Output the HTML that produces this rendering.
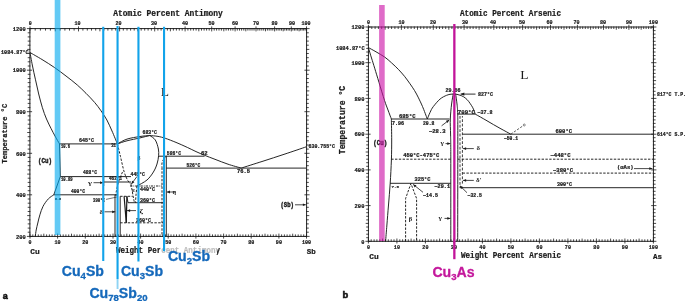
<!DOCTYPE html>
<html><head><meta charset="utf-8"><title>Cu-Sb and Cu-As phase diagrams</title>
<style>html,body{margin:0;padding:0;background:#fff;}svg{display:block;will-change:transform;}.m{font-family:"Liberation Mono",monospace;stroke:#1a1a1a;stroke-width:0.22px;}.s{font-family:"Liberation Sans",sans-serif;}.r{font-family:"Liberation Serif",serif;}</style>
</head><body>
<svg width="685" height="301" viewBox="0 0 685 301">
<rect x="0" y="0" width="685" height="301" fill="#ffffff"/>
<g id="left">
<rect x="29.9" y="28.6" width="276.7" height="207.8" fill="none" stroke="#1a1a1a" stroke-width="0.95"/>
<path d="M30 238.6v-5M32.8 236.9v-2.5M35.5 236.9v-2.5M38.3 236.9v-2.5M41.1 236.9v-2.5M43.8 236.9v-3.2M46.6 236.9v-2.5M49.4 236.9v-2.5M52.1 236.9v-2.5M54.9 236.9v-2.5M57.6 238.6v-5M60.4 236.9v-2.5M63.2 236.9v-2.5M65.9 236.9v-2.5M68.7 236.9v-2.5M71.5 236.9v-3.2M74.2 236.9v-2.5M77 236.9v-2.5M79.8 236.9v-2.5M82.5 236.9v-2.5M85.3 238.6v-5M88.1 236.9v-2.5M90.8 236.9v-2.5M93.6 236.9v-2.5M96.4 236.9v-2.5M99.1 236.9v-3.2M101.9 236.9v-2.5M104.7 236.9v-2.5M107.4 236.9v-2.5M110.2 236.9v-2.5M113 238.6v-5M115.7 236.9v-2.5M118.5 236.9v-2.5M121.2 236.9v-2.5M124 236.9v-2.5M126.8 236.9v-3.2M129.5 236.9v-2.5M132.3 236.9v-2.5M135.1 236.9v-2.5M137.8 236.9v-2.5M140.6 238.6v-5M143.4 236.9v-2.5M146.1 236.9v-2.5M148.9 236.9v-2.5M151.7 236.9v-2.5M154.4 236.9v-3.2M157.2 236.9v-2.5M160 236.9v-2.5M162.7 236.9v-2.5M165.5 236.9v-2.5M168.2 238.6v-5M171 236.9v-2.5M173.8 236.9v-2.5M176.5 236.9v-2.5M179.3 236.9v-2.5M182.1 236.9v-3.2M184.8 236.9v-2.5M187.6 236.9v-2.5M190.4 236.9v-2.5M193.1 236.9v-2.5M195.9 238.6v-5M198.7 236.9v-2.5M201.4 236.9v-2.5M204.2 236.9v-2.5M207 236.9v-2.5M209.7 236.9v-3.2M212.5 236.9v-2.5M215.3 236.9v-2.5M218 236.9v-2.5M220.8 236.9v-2.5M223.6 238.6v-5M226.3 236.9v-2.5M229.1 236.9v-2.5M231.8 236.9v-2.5M234.6 236.9v-2.5M237.4 236.9v-3.2M240.1 236.9v-2.5M242.9 236.9v-2.5M245.7 236.9v-2.5M248.4 236.9v-2.5M251.2 238.6v-5M254 236.9v-2.5M256.7 236.9v-2.5M259.5 236.9v-2.5M262.3 236.9v-2.5M265 236.9v-3.2M267.8 236.9v-2.5M270.6 236.9v-2.5M273.3 236.9v-2.5M276.1 236.9v-2.5M278.9 238.6v-5M281.6 236.9v-2.5M284.4 236.9v-2.5M287.1 236.9v-2.5M289.9 236.9v-2.5M292.7 236.9v-3.2M295.4 236.9v-2.5M298.2 236.9v-2.5M301 236.9v-2.5M303.7 236.9v-2.5M306.5 238.6v-5M30 26.4v5M35.2 28.1v2.5M40.4 28.1v2.5M45.5 28.1v2.5M50.4 28.1v2.5M55.3 28.1v3.2M60.1 28.1v2.5M64.9 28.1v2.5M69.5 28.1v2.5M74.1 28.1v2.5M78.5 26.4v5M82.9 28.1v2.5M87.3 28.1v2.5M91.5 28.1v2.5M95.7 28.1v2.5M99.9 28.1v3.2M103.9 28.1v2.5M107.9 28.1v2.5M111.9 28.1v2.5M115.7 28.1v2.5M119.6 26.4v5M123.3 28.1v2.5M127 28.1v2.5M130.6 28.1v2.5M134.2 28.1v2.5M137.8 28.1v3.2M141.2 28.1v2.5M144.7 28.1v2.5M148.1 28.1v2.5M151.4 28.1v2.5M154.7 26.4v5M157.9 28.1v2.5M161.1 28.1v2.5M164.2 28.1v2.5M167.4 28.1v2.5M170.4 28.1v3.2M173.4 28.1v2.5M176.4 28.1v2.5M179.3 28.1v2.5M182.2 28.1v2.5M185.1 26.4v5M187.9 28.1v2.5M190.7 28.1v2.5M193.4 28.1v2.5M196.1 28.1v2.5M198.8 28.1v3.2M201.5 28.1v2.5M204.1 28.1v2.5M206.6 28.1v2.5M209.2 28.1v2.5M211.7 26.4v5M214.2 28.1v2.5M216.6 28.1v2.5M219 28.1v2.5M221.4 28.1v2.5M223.8 28.1v3.2M226.1 28.1v2.5M228.4 28.1v2.5M230.7 28.1v2.5M232.9 28.1v2.5M235.1 26.4v5M237.3 28.1v2.5M239.5 28.1v2.5M241.6 28.1v2.5M243.8 28.1v2.5M245.8 28.1v3.2M247.9 28.1v2.5M250 28.1v2.5M252 28.1v2.5M254 28.1v2.5M256 26.4v5M257.9 28.1v2.5M259.8 28.1v2.5M261.8 28.1v2.5M263.7 28.1v2.5M265.5 28.1v3.2M267.4 28.1v2.5M269.2 28.1v2.5M271 28.1v2.5M272.8 28.1v2.5M274.6 26.4v5M276.3 28.1v2.5M278.1 28.1v2.5M279.8 28.1v2.5M281.5 28.1v2.5M283.2 28.1v3.2M284.8 28.1v2.5M286.5 28.1v2.5M288.1 28.1v2.5M289.7 28.1v2.5M291.3 26.4v5M292.9 28.1v2.5M294.5 28.1v2.5M296 28.1v2.5M297.6 28.1v2.5M299.1 28.1v3.2M300.6 28.1v2.5M302.1 28.1v2.5M303.6 28.1v2.5M305.1 28.1v2.5M306.5 26.4v5M26.9 236.4h5.2M309.6 236.4h-5.2M27.7 232.2h2.7M308.8 232.2h-2.7M27.7 228.1h2.7M308.8 228.1h-2.7M27.7 223.9h2.7M308.8 223.9h-2.7M27.7 219.8h2.7M308.8 219.8h-2.7M27.2 215.6h3.2M309.3 215.6h-3.2M27.7 211.5h2.7M308.8 211.5h-2.7M27.7 207.3h2.7M308.8 207.3h-2.7M27.7 203.2h2.7M308.8 203.2h-2.7M27.7 199h2.7M308.8 199h-2.7M26.9 194.8h5.2M309.6 194.8h-5.2M27.7 190.7h2.7M308.8 190.7h-2.7M27.7 186.5h2.7M308.8 186.5h-2.7M27.7 182.4h2.7M308.8 182.4h-2.7M27.7 178.2h2.7M308.8 178.2h-2.7M27.2 174.1h3.2M309.3 174.1h-3.2M27.7 169.9h2.7M308.8 169.9h-2.7M27.7 165.7h2.7M308.8 165.7h-2.7M27.7 161.6h2.7M308.8 161.6h-2.7M27.7 157.4h2.7M308.8 157.4h-2.7M26.9 153.3h5.2M309.6 153.3h-5.2M27.7 149.1h2.7M308.8 149.1h-2.7M27.7 145h2.7M308.8 145h-2.7M27.7 140.8h2.7M308.8 140.8h-2.7M27.7 136.7h2.7M308.8 136.7h-2.7M27.2 132.5h3.2M309.3 132.5h-3.2M27.7 128.3h2.7M308.8 128.3h-2.7M27.7 124.2h2.7M308.8 124.2h-2.7M27.7 120h2.7M308.8 120h-2.7M27.7 115.9h2.7M308.8 115.9h-2.7M26.9 111.7h5.2M309.6 111.7h-5.2M27.7 107.6h2.7M308.8 107.6h-2.7M27.7 103.4h2.7M308.8 103.4h-2.7M27.7 99.3h2.7M308.8 99.3h-2.7M27.7 95.1h2.7M308.8 95.1h-2.7M27.2 90.9h3.2M309.3 90.9h-3.2M27.7 86.8h2.7M308.8 86.8h-2.7M27.7 82.6h2.7M308.8 82.6h-2.7M27.7 78.5h2.7M308.8 78.5h-2.7M27.7 74.3h2.7M308.8 74.3h-2.7M26.9 70.2h5.2M309.6 70.2h-5.2M27.7 66h2.7M308.8 66h-2.7M27.7 61.8h2.7M308.8 61.8h-2.7M27.7 57.7h2.7M308.8 57.7h-2.7M27.7 53.5h2.7M308.8 53.5h-2.7M27.2 49.4h3.2M309.3 49.4h-3.2M27.7 45.2h2.7M308.8 45.2h-2.7M27.7 41.1h2.7M308.8 41.1h-2.7M27.7 36.9h2.7M308.8 36.9h-2.7M27.7 32.8h2.7M308.8 32.8h-2.7M26.9 28.6h5.2M309.6 28.6h-5.2" fill="none" stroke="#1a1a1a" stroke-width="0.8" />
<path d="M30 52.5C32 53.7 37.9 57 42 59.5C46.1 62 50.6 64.8 54.6 67.6C58.6 70.3 62.2 73.1 66 76C69.8 78.9 74 82.1 77.3 85C80.6 87.9 83.1 90.4 86 93.3C88.9 96.2 92.2 99.6 94.7 102.5C97.2 105.4 99 107.9 101 110.8C103 113.7 105.1 116.6 106.9 120C108.7 123.4 110.2 127 112 131C113.8 135 116.5 141.8 117.4 143.9" fill="none" stroke="#1a1a1a" stroke-width="0.95" />
<path d="M30 52.5C30.4 54.6 31.4 60.5 32.3 65C33.2 69.5 34.4 75 35.5 79.8C36.6 84.6 37.6 89.3 38.7 94C39.9 98.7 41.1 103.5 42.4 107.7C43.7 111.9 45 115.5 46.5 119C48 122.5 49.7 125.8 51.1 128.6C52.5 131.4 53.6 133.4 55 136C56.4 138.6 58.8 142.6 59.5 143.9" fill="none" stroke="#1a1a1a" stroke-width="0.95" />
<line x1="59.5" y1="143.9" x2="117.4" y2="143.9" stroke="#1a1a1a" stroke-width="0.95" />
<path d="M59.5 143.9L60.3 176.6L53.8 194.8" fill="none" stroke="#1a1a1a" stroke-width="0.95" />
<path d="M53.8 194.8C52.9 195.5 50.2 196.9 48.4 198.8C46.6 200.7 44.4 203.7 43 206.4C41.6 209.1 40.8 212 39.9 214.8C39 217.6 38.4 220.5 37.8 223C37.2 225.5 36.6 227.8 36.2 230C35.8 232.2 35.4 235.3 35.2 236.4" fill="none" stroke="#1a1a1a" stroke-width="0.95" />
<line x1="60.3" y1="176.6" x2="131" y2="176.6" stroke="#1a1a1a" stroke-width="0.95" />
<line x1="103.7" y1="182" x2="131" y2="182" stroke="#1a1a1a" stroke-width="0.95" />
<line x1="103.7" y1="176.6" x2="103.7" y2="186" stroke="#1a1a1a" stroke-width="0.95" />
<line x1="53.8" y1="194.8" x2="117" y2="194.8" stroke="#1a1a1a" stroke-width="0.95" />
<path d="M117.4 143.9C119 143.1 123.2 140.3 127 139.1C130.8 137.9 136.2 137.1 140 136.5C143.8 135.9 148.2 135.7 149.8 135.5" fill="none" stroke="#1a1a1a" stroke-width="0.95" />
<path d="M117.4 143.9C119 143.4 123.2 141.8 127 140.8C130.8 139.8 136.2 138.8 140 137.9C143.8 137 148.2 135.9 149.8 135.5" fill="none" stroke="#1a1a1a" stroke-width="0.95" />
<path d="M149.8 135.5C151.2 135.7 155.4 135.9 158 136.4C160.6 136.9 162.3 137.3 165.3 138.3C168.3 139.3 172.3 140.9 176 142.4C179.7 143.9 184 145.9 187.3 147.4C190.6 148.9 193.1 150.3 196 151.6C198.9 152.9 201.4 154 204.6 155.3C207.8 156.6 211.1 157.8 215 159.3C218.9 160.8 223.6 162.7 228 164.2C232.4 165.7 239 167.4 241.2 168.1" fill="none" stroke="#1a1a1a" stroke-width="0.95" />
<path d="M241.2 168.1C244.7 167 254.7 163.8 262 161.5C269.3 159.2 277.7 156.4 285 154C292.3 151.6 302.5 148.1 306 146.9" fill="none" stroke="#1a1a1a" stroke-width="0.95" />
<path d="M149.8 135.5C150.7 136.2 153.9 137.8 155.3 140C156.7 142.2 157.9 146.4 158.4 149C158.9 151.6 158.8 153.1 158.6 155.6C158.4 158.1 157.9 161.3 157 164C156.1 166.7 155.1 169.3 153.4 172C151.7 174.7 149.7 177.7 147 180C144.3 182.3 138.7 185 137 186" fill="none" stroke="#1a1a1a" stroke-width="0.95" />
<path d="M117.4 143.9C117.9 146 119.4 151.9 120.5 156.6C121.6 161.3 123 168.1 124.2 172C125.4 175.9 126.4 177.9 127.5 180C128.6 182.1 130.4 183.6 131 184.3" fill="none" stroke="#1a1a1a" stroke-width="0.95" stroke-dasharray="2.4 1.4"/>
<path d="M122.5 172C121.8 173.7 119.5 178.7 118.5 182C117.5 185.3 116.6 189.7 116.2 192C115.8 194.3 116 195.3 116 196" fill="none" stroke="#1a1a1a" stroke-width="0.95" stroke-dasharray="2.4 1.4"/>
<line x1="158.5" y1="156.2" x2="204.6" y2="156.2" stroke="#1a1a1a" stroke-width="0.95" />
<line x1="166.2" y1="168.1" x2="306" y2="168.1" stroke="#1a1a1a" stroke-width="0.95" />
<line x1="166.3" y1="156.2" x2="166.3" y2="236" stroke="#1a1a1a" stroke-width="0.95" />
<line x1="162" y1="167.5" x2="162" y2="236" stroke="#1a1a1a" stroke-width="0.95" stroke-dasharray="2.4 1.4"/>
<path d="M166.3 156.2C165.9 156.6 164.7 157.4 164 158.5C163.3 159.6 162.3 161.5 162 163C161.7 164.5 162 166.8 162 167.5" fill="none" stroke="#1a1a1a" stroke-width="0.95" stroke-dasharray="2.4 1.4"/>
<line x1="130" y1="186" x2="162" y2="186" stroke="#1a1a1a" stroke-width="0.95" stroke-dasharray="2.4 1 0.8 1"/>
<path d="M131 184.3C131.2 185.6 132 189.6 132.4 192C132.8 194.4 133.2 196.9 133.6 198.7C133.9 200.5 134.3 202 134.5 202.7" fill="none" stroke="#1a1a1a" stroke-width="0.95" stroke-dasharray="2.4 1.4"/>
<path d="M137 186C136.8 187.5 136.2 192.2 136 195C135.8 197.8 135.6 201.4 135.5 202.7" fill="none" stroke="#1a1a1a" stroke-width="0.95" stroke-dasharray="2.4 1.4"/>
<line x1="120.2" y1="196.3" x2="132.7" y2="196.3" stroke="#1a1a1a" stroke-width="0.95" stroke-dasharray="2.4 1.4"/>
<line x1="128" y1="202.7" x2="163.7" y2="202.7" stroke="#1a1a1a" stroke-width="0.95" />
<line x1="126.9" y1="196.3" x2="128" y2="202.7" stroke="#1a1a1a" stroke-width="0.95" />
<line x1="115" y1="194.8" x2="115" y2="236" stroke="#1a1a1a" stroke-width="0.95" />
<line x1="120.2" y1="196.3" x2="120.2" y2="236" stroke="#1a1a1a" stroke-width="0.95" />
<line x1="124.1" y1="196.3" x2="126.3" y2="222.8" stroke="#1a1a1a" stroke-width="1.2" />
<line x1="126.9" y1="196.3" x2="126.3" y2="222.8" stroke="#1a1a1a" stroke-width="1.2" />
<line x1="120.2" y1="222.8" x2="163.7" y2="222.8" stroke="#1a1a1a" stroke-width="0.95" stroke-dasharray="2.4 1.4"/>
<line x1="106" y1="199.4" x2="117" y2="197" stroke="#1a1a1a" stroke-width="0.6" />
<line x1="93.5" y1="182.7" x2="103.2" y2="182.7" stroke="#1a1a1a" stroke-width="0.8" />
<path d="M103.2 182.7L100.1 184.1L100.1 181.3Z" fill="#1a1a1a"/>
<line x1="104.5" y1="211.8" x2="115.3" y2="211.8" stroke="#1a1a1a" stroke-width="0.8" />
<path d="M115.3 211.8L112.2 213.2L112.2 210.4Z" fill="#1a1a1a"/>
<line x1="136" y1="210.6" x2="127" y2="210.6" stroke="#1a1a1a" stroke-width="0.8" />
<path d="M127 210.6L130.1 209.2L130.1 212Z" fill="#1a1a1a"/>
<line x1="176" y1="192" x2="166.9" y2="192" stroke="#1a1a1a" stroke-width="0.8" />
<path d="M166.9 192L170 190.6L170 193.4Z" fill="#1a1a1a"/>
<line x1="295" y1="204.8" x2="305.8" y2="204.8" stroke="#1a1a1a" stroke-width="0.8" />
<path d="M305.8 204.8L302.9 206.1L302.9 203.5Z" fill="#1a1a1a"/>
<line x1="137" y1="176.5" x2="131.4" y2="184" stroke="#1a1a1a" stroke-width="0.8" />
<path d="M131.4 184L132.1 180.7L134.4 182.3Z" fill="#1a1a1a"/>
<text class="m" x="168" y="16" font-size="8.2" font-weight="bold" text-anchor="middle" fill="#1a1a1a" textLength="109.5" lengthAdjust="spacingAndGlyphs" >Atomic Percent Antimony</text>
<text class="m" x="30.2" y="24.7" font-size="5.7" font-weight="bold" text-anchor="middle" fill="#1a1a1a" textLength="3" lengthAdjust="spacingAndGlyphs" >0</text>
<text class="m" x="77.5" y="24.7" font-size="5.7" font-weight="bold" text-anchor="middle" fill="#1a1a1a" textLength="6.1" lengthAdjust="spacingAndGlyphs" >10</text>
<text class="m" x="118.5" y="24.7" font-size="5.7" font-weight="bold" text-anchor="middle" fill="#1a1a1a" textLength="6.1" lengthAdjust="spacingAndGlyphs" >20</text>
<text class="m" x="154" y="24.7" font-size="5.7" font-weight="bold" text-anchor="middle" fill="#1a1a1a" textLength="6.1" lengthAdjust="spacingAndGlyphs" >30</text>
<text class="m" x="185" y="24.7" font-size="5.7" font-weight="bold" text-anchor="middle" fill="#1a1a1a" textLength="6.1" lengthAdjust="spacingAndGlyphs" >40</text>
<text class="m" x="211.5" y="24.7" font-size="5.7" font-weight="bold" text-anchor="middle" fill="#1a1a1a" textLength="6.1" lengthAdjust="spacingAndGlyphs" >50</text>
<text class="m" x="235" y="24.7" font-size="5.7" font-weight="bold" text-anchor="middle" fill="#1a1a1a" textLength="6.1" lengthAdjust="spacingAndGlyphs" >60</text>
<text class="m" x="256" y="24.7" font-size="5.7" font-weight="bold" text-anchor="middle" fill="#1a1a1a" textLength="6.1" lengthAdjust="spacingAndGlyphs" >70</text>
<text class="m" x="274.5" y="24.7" font-size="5.7" font-weight="bold" text-anchor="middle" fill="#1a1a1a" textLength="6.1" lengthAdjust="spacingAndGlyphs" >80</text>
<text class="m" x="292" y="24.7" font-size="5.7" font-weight="bold" text-anchor="middle" fill="#1a1a1a" textLength="6.1" lengthAdjust="spacingAndGlyphs" >90</text>
<text class="m" x="306" y="24.7" font-size="5.7" font-weight="bold" text-anchor="middle" fill="#1a1a1a" textLength="9.1" lengthAdjust="spacingAndGlyphs" >100</text>
<text class="m" x="25.8" y="30.8" font-size="5.8" font-weight="bold" text-anchor="end" fill="#1a1a1a" textLength="13" lengthAdjust="spacingAndGlyphs" >1200</text>
<text class="m" x="25.8" y="72.4" font-size="5.8" font-weight="bold" text-anchor="end" fill="#1a1a1a" textLength="13" lengthAdjust="spacingAndGlyphs" >1000</text>
<text class="m" x="25.8" y="113.9" font-size="5.8" font-weight="bold" text-anchor="end" fill="#1a1a1a" textLength="9.8" lengthAdjust="spacingAndGlyphs" >800</text>
<text class="m" x="25.8" y="155.5" font-size="5.8" font-weight="bold" text-anchor="end" fill="#1a1a1a" textLength="9.8" lengthAdjust="spacingAndGlyphs" >600</text>
<text class="m" x="25.8" y="197" font-size="5.8" font-weight="bold" text-anchor="end" fill="#1a1a1a" textLength="9.8" lengthAdjust="spacingAndGlyphs" >400</text>
<text class="m" x="25.8" y="238.6" font-size="5.8" font-weight="bold" text-anchor="end" fill="#1a1a1a" textLength="9.8" lengthAdjust="spacingAndGlyphs" >200</text>
<text class="m" x="28.6" y="54.4" font-size="5.2" font-weight="bold" text-anchor="end" fill="#1a1a1a" textLength="27.6" lengthAdjust="spacingAndGlyphs" >1084.87°C</text>
<text class="m" x="30" y="243.7" font-size="5.7" font-weight="bold" text-anchor="middle" fill="#1a1a1a" textLength="3" lengthAdjust="spacingAndGlyphs" >0</text>
<text class="m" x="57.6" y="243.7" font-size="5.7" font-weight="bold" text-anchor="middle" fill="#1a1a1a" textLength="6.1" lengthAdjust="spacingAndGlyphs" >10</text>
<text class="m" x="85.3" y="243.7" font-size="5.7" font-weight="bold" text-anchor="middle" fill="#1a1a1a" textLength="6.1" lengthAdjust="spacingAndGlyphs" >20</text>
<text class="m" x="113" y="243.7" font-size="5.7" font-weight="bold" text-anchor="middle" fill="#1a1a1a" textLength="6.1" lengthAdjust="spacingAndGlyphs" >30</text>
<text class="m" x="140.6" y="243.7" font-size="5.7" font-weight="bold" text-anchor="middle" fill="#1a1a1a" textLength="6.1" lengthAdjust="spacingAndGlyphs" >40</text>
<text class="m" x="168.2" y="243.7" font-size="5.7" font-weight="bold" text-anchor="middle" fill="#1a1a1a" textLength="6.1" lengthAdjust="spacingAndGlyphs" >50</text>
<text class="m" x="195.9" y="243.7" font-size="5.7" font-weight="bold" text-anchor="middle" fill="#1a1a1a" textLength="6.1" lengthAdjust="spacingAndGlyphs" >60</text>
<text class="m" x="223.6" y="243.7" font-size="5.7" font-weight="bold" text-anchor="middle" fill="#1a1a1a" textLength="6.1" lengthAdjust="spacingAndGlyphs" >70</text>
<text class="m" x="251.2" y="243.7" font-size="5.7" font-weight="bold" text-anchor="middle" fill="#1a1a1a" textLength="6.1" lengthAdjust="spacingAndGlyphs" >80</text>
<text class="m" x="278.9" y="243.7" font-size="5.7" font-weight="bold" text-anchor="middle" fill="#1a1a1a" textLength="6.1" lengthAdjust="spacingAndGlyphs" >90</text>
<text class="m" x="306.5" y="243.7" font-size="5.7" font-weight="bold" text-anchor="middle" fill="#1a1a1a" textLength="9.1" lengthAdjust="spacingAndGlyphs" >100</text>
<text class="m" transform="translate(6.6,163.5) rotate(-90)" font-size="7.4" font-weight="bold" text-anchor="start" fill="#1a1a1a" textLength="59.8" lengthAdjust="spacingAndGlyphs">Temperature °C</text>
<text class="m" x="30.2" y="253.5" font-size="7.6" font-weight="bold" text-anchor="start" fill="#1a1a1a" textLength="9.5" lengthAdjust="spacingAndGlyphs" >Cu</text>
<text class="m" x="306.8" y="253.5" font-size="7.6" font-weight="bold" text-anchor="start" fill="#1a1a1a" textLength="9" lengthAdjust="spacingAndGlyphs" >Sb</text>
<text class="m" x="168" y="252.8" font-size="8.2" font-weight="bold" text-anchor="middle" fill="#1a1a1a" textLength="104" lengthAdjust="spacingAndGlyphs" >Weight Percent Antimony</text>
<text class="m" x="79" y="142.3" font-size="5.0" font-weight="bold" text-anchor="start" fill="#1a1a1a" textLength="15" lengthAdjust="spacingAndGlyphs" >645°C</text>
<text class="m" x="61" y="148.2" font-size="4.6" font-weight="bold" text-anchor="start" fill="#1a1a1a" textLength="9" lengthAdjust="spacingAndGlyphs" >10.6</text>
<text class="m" x="111.2" y="147.1" font-size="4.6" font-weight="bold" text-anchor="start" fill="#1a1a1a" textLength="4.8" lengthAdjust="spacingAndGlyphs" >31</text>
<text class="m" x="142.5" y="134.2" font-size="5.0" font-weight="bold" text-anchor="start" fill="#1a1a1a" textLength="14.5" lengthAdjust="spacingAndGlyphs" >683°C</text>
<text class="m" x="38" y="163.1" font-size="7.2" font-weight="bold" text-anchor="start" fill="#1a1a1a" textLength="14" lengthAdjust="spacingAndGlyphs" style="stroke-width:0.45px">(Cu)</text>
<text class="m" x="83" y="174.3" font-size="5.0" font-weight="bold" text-anchor="start" fill="#1a1a1a" textLength="14" lengthAdjust="spacingAndGlyphs" >488°C</text>
<text class="m" x="61" y="180.5" font-size="4.6" font-weight="bold" text-anchor="start" fill="#1a1a1a" textLength="11.7" lengthAdjust="spacingAndGlyphs" >10.89</text>
<text class="m" x="109" y="180.4" font-size="4.6" font-weight="bold" text-anchor="start" fill="#1a1a1a" textLength="13" lengthAdjust="spacingAndGlyphs" >462°C</text>
<text class="r" x="88" y="184.5" font-size="6" font-weight="bold" text-anchor="start" fill="#1a1a1a" textLength="4" lengthAdjust="spacingAndGlyphs" >γ</text>
<text class="m" x="71" y="193.1" font-size="5.0" font-weight="bold" text-anchor="start" fill="#1a1a1a" textLength="14" lengthAdjust="spacingAndGlyphs" >400°C</text>
<text class="m" x="55" y="199.8" font-size="4.4" font-weight="bold" text-anchor="start" fill="#1a1a1a" textLength="6" lengthAdjust="spacingAndGlyphs" >5.5</text>
<text class="m" x="130.6" y="176.2" font-size="5.0" font-weight="bold" text-anchor="start" fill="#1a1a1a" textLength="14.4" lengthAdjust="spacingAndGlyphs" >445°C</text>
<text class="m" x="140" y="190.8" font-size="5.0" font-weight="bold" text-anchor="start" fill="#1a1a1a" textLength="15" lengthAdjust="spacingAndGlyphs" >440°C</text>
<text class="r" x="132" y="191.8" font-size="5.5" font-weight="bold" text-anchor="start" fill="#1a1a1a" textLength="3" lengthAdjust="spacingAndGlyphs" >ε</text>
<text class="m" x="93" y="202" font-size="5.0" font-weight="bold" text-anchor="start" fill="#1a1a1a" textLength="12" lengthAdjust="spacingAndGlyphs" >390°C</text>
<text class="r" x="99.5" y="213.5" font-size="6" font-weight="bold" text-anchor="start" fill="#1a1a1a" textLength="3.5" lengthAdjust="spacingAndGlyphs" >δ</text>
<text class="m" x="140" y="202.2" font-size="5.0" font-weight="bold" text-anchor="start" fill="#1a1a1a" textLength="15" lengthAdjust="spacingAndGlyphs" >360°C</text>
<text class="r" x="139.5" y="212.7" font-size="6" font-weight="bold" text-anchor="start" fill="#1a1a1a" textLength="3.5" lengthAdjust="spacingAndGlyphs" >ζ</text>
<text class="m" x="136" y="222.2" font-size="5.0" font-weight="bold" text-anchor="start" fill="#1a1a1a" textLength="15" lengthAdjust="spacingAndGlyphs" >260°C</text>
<text class="m" x="166.8" y="154.8" font-size="5.0" font-weight="bold" text-anchor="start" fill="#1a1a1a" textLength="14.2" lengthAdjust="spacingAndGlyphs" >586°C</text>
<text class="m" x="201" y="154.5" font-size="4.6" font-weight="bold" text-anchor="start" fill="#1a1a1a" textLength="6.7" lengthAdjust="spacingAndGlyphs" >62</text>
<text class="m" x="186.4" y="166.7" font-size="5.0" font-weight="bold" text-anchor="start" fill="#1a1a1a" textLength="14" lengthAdjust="spacingAndGlyphs" >526°C</text>
<text class="m" x="237" y="172.7" font-size="4.6" font-weight="bold" text-anchor="start" fill="#1a1a1a" textLength="13" lengthAdjust="spacingAndGlyphs" >76.5</text>
<text class="r" x="172.5" y="194.3" font-size="6" font-weight="bold" text-anchor="start" fill="#1a1a1a" textLength="3.5" lengthAdjust="spacingAndGlyphs" >η</text>
<text class="m" x="280.5" y="207" font-size="7.2" font-weight="bold" text-anchor="start" fill="#1a1a1a" textLength="13.5" lengthAdjust="spacingAndGlyphs" style="stroke-width:0.45px">(Sb)</text>
<text class="m" x="308.5" y="148.1" font-size="4.8" font-weight="bold" text-anchor="start" fill="#1a1a1a" textLength="26.5" lengthAdjust="spacingAndGlyphs" >630.755°C</text>
<text class="r" x="137.5" y="159.5" font-size="6" font-weight="bold" text-anchor="start" fill="#1a1a1a" textLength="3" lengthAdjust="spacingAndGlyphs" >β</text>
<text class="r" x="160.8" y="96" font-size="13.5" font-weight="normal" text-anchor="start" fill="#1a1a1a" >L</text>
<rect x="160" y="245.5" width="57" height="20" fill="#ffffff" fill-opacity="0.7"/>
<rect x="54.7" y="0" width="5.7" height="235" fill="#00a9ee" fill-opacity="0.61"/>
<rect x="102.2" y="26.8" width="2.1" height="234.2" fill="#12a3ea"/>
<rect x="137.4" y="26.8" width="2.1" height="234.7" fill="#12a3ea"/>
<rect x="163" y="26.8" width="2.1" height="224.4" fill="#12a3ea"/>
<rect x="116.5" y="26" width="2.1" height="253" fill="#12a3ea"/>
<rect x="116.6" y="279" width="1.9" height="10" fill="#8fd4f4"/>
<text class="s" x="61.8" y="276.2" font-size="14.1" font-weight="bold" fill="#1569bb" stroke="#1569bb" stroke-width="0.3">Cu<tspan font-size="9.6" dy="2.8">4</tspan><tspan dy="-2.8" font-size="1">&#8203;</tspan>Sb</text>
<text class="s" x="120.9" y="276.2" font-size="14.1" font-weight="bold" fill="#1569bb" stroke="#1569bb" stroke-width="0.3">Cu<tspan font-size="9.6" dy="2.8">3</tspan><tspan dy="-2.8" font-size="1">&#8203;</tspan>Sb</text>
<text class="s" x="167.9" y="260.8" font-size="14.1" font-weight="bold" fill="#1569bb" stroke="#1569bb" stroke-width="0.3">Cu<tspan font-size="9.6" dy="2.8">2</tspan><tspan dy="-2.8" font-size="1">&#8203;</tspan>Sb</text>
<text class="s" x="89.4" y="297.8" font-size="14.1" font-weight="bold" fill="#1569bb" stroke="#1569bb" stroke-width="0.3">Cu<tspan font-size="9.6" dy="2.8">78</tspan><tspan dy="-2.8" font-size="1">&#8203;</tspan>Sb<tspan font-size="9.6" dy="2.8">20</tspan><tspan dy="-2.8" font-size="1">&#8203;</tspan></text>
<text class="s" x="2.7" y="298.6" font-size="9" font-weight="bold" text-anchor="start" fill="#111" stroke="#111" stroke-width="0.55">a</text>
</g>
<g id="right">
<rect x="368.4" y="27.0" width="285" height="214.3" fill="none" stroke="#1a1a1a" stroke-width="0.95"/>
<path d="M368.4 243.5v-5M371.2 241.8v-2.5M374.1 241.8v-2.5M376.9 241.8v-2.5M379.8 241.8v-2.5M382.6 241.8v-3.2M385.5 241.8v-2.5M388.3 241.8v-2.5M391.2 241.8v-2.5M394 241.8v-2.5M396.9 243.5v-5M399.8 241.8v-2.5M402.6 241.8v-2.5M405.4 241.8v-2.5M408.3 241.8v-2.5M411.1 241.8v-3.2M414 241.8v-2.5M416.8 241.8v-2.5M419.7 241.8v-2.5M422.5 241.8v-2.5M425.4 243.5v-5M428.2 241.8v-2.5M431.1 241.8v-2.5M433.9 241.8v-2.5M436.8 241.8v-2.5M439.6 241.8v-3.2M442.5 241.8v-2.5M445.3 241.8v-2.5M448.2 241.8v-2.5M451 241.8v-2.5M453.9 243.5v-5M456.8 241.8v-2.5M459.6 241.8v-2.5M462.4 241.8v-2.5M465.3 241.8v-2.5M468.1 241.8v-3.2M471 241.8v-2.5M473.8 241.8v-2.5M476.7 241.8v-2.5M479.5 241.8v-2.5M482.4 243.5v-5M485.2 241.8v-2.5M488.1 241.8v-2.5M490.9 241.8v-2.5M493.8 241.8v-2.5M496.6 241.8v-3.2M499.5 241.8v-2.5M502.3 241.8v-2.5M505.2 241.8v-2.5M508 241.8v-2.5M510.9 243.5v-5M513.8 241.8v-2.5M516.6 241.8v-2.5M519.5 241.8v-2.5M522.3 241.8v-2.5M525.1 241.8v-3.2M528 241.8v-2.5M530.8 241.8v-2.5M533.7 241.8v-2.5M536.5 241.8v-2.5M539.4 243.5v-5M542.2 241.8v-2.5M545.1 241.8v-2.5M548 241.8v-2.5M550.8 241.8v-2.5M553.6 241.8v-3.2M556.5 241.8v-2.5M559.3 241.8v-2.5M562.2 241.8v-2.5M565 241.8v-2.5M567.9 243.5v-5M570.8 241.8v-2.5M573.6 241.8v-2.5M576.5 241.8v-2.5M579.3 241.8v-2.5M582.1 241.8v-3.2M585 241.8v-2.5M587.8 241.8v-2.5M590.7 241.8v-2.5M593.5 241.8v-2.5M596.4 243.5v-5M599.2 241.8v-2.5M602.1 241.8v-2.5M605 241.8v-2.5M607.8 241.8v-2.5M610.6 241.8v-3.2M613.5 241.8v-2.5M616.3 241.8v-2.5M619.2 241.8v-2.5M622 241.8v-2.5M624.9 243.5v-5M627.8 241.8v-2.5M630.6 241.8v-2.5M633.5 241.8v-2.5M636.3 241.8v-2.5M639.1 241.8v-3.2M642 241.8v-2.5M644.8 241.8v-2.5M647.7 241.8v-2.5M650.5 241.8v-2.5M653.4 243.5v-5M368.4 24.8v5M371.8 26.5v2.5M375.1 26.5v2.5M378.4 26.5v2.5M381.7 26.5v2.5M385.1 26.5v3.2M388.3 26.5v2.5M391.6 26.5v2.5M394.9 26.5v2.5M398.2 26.5v2.5M401.4 24.8v5M404.6 26.5v2.5M407.9 26.5v2.5M411.1 26.5v2.5M414.3 26.5v2.5M417.5 26.5v3.2M420.7 26.5v2.5M423.8 26.5v2.5M427 26.5v2.5M430.1 26.5v2.5M433.3 24.8v5M436.4 26.5v2.5M439.5 26.5v2.5M442.6 26.5v2.5M445.7 26.5v2.5M448.8 26.5v3.2M451.9 26.5v2.5M454.9 26.5v2.5M458 26.5v2.5M461 26.5v2.5M464.1 24.8v5M467.1 26.5v2.5M470.1 26.5v2.5M473.1 26.5v2.5M476.1 26.5v2.5M479.1 26.5v3.2M482 26.5v2.5M485 26.5v2.5M488 26.5v2.5M490.9 26.5v2.5M493.8 24.8v5M496.7 26.5v2.5M499.7 26.5v2.5M502.6 26.5v2.5M505.5 26.5v2.5M508.3 26.5v3.2M511.2 26.5v2.5M514.1 26.5v2.5M516.9 26.5v2.5M519.8 26.5v2.5M522.6 24.8v5M525.4 26.5v2.5M528.2 26.5v2.5M531.1 26.5v2.5M533.9 26.5v2.5M536.6 26.5v3.2M539.4 26.5v2.5M542.2 26.5v2.5M545 26.5v2.5M547.7 26.5v2.5M550.5 24.8v5M553.2 26.5v2.5M555.9 26.5v2.5M558.6 26.5v2.5M561.3 26.5v2.5M564 26.5v3.2M566.7 26.5v2.5M569.4 26.5v2.5M572.1 26.5v2.5M574.8 26.5v2.5M577.4 24.8v5M580.1 26.5v2.5M582.7 26.5v2.5M585.3 26.5v2.5M588 26.5v2.5M590.6 26.5v3.2M593.2 26.5v2.5M595.8 26.5v2.5M598.4 26.5v2.5M601 26.5v2.5M603.5 24.8v5M606.1 26.5v2.5M608.7 26.5v2.5M611.2 26.5v2.5M613.8 26.5v2.5M616.3 26.5v3.2M618.8 26.5v2.5M621.3 26.5v2.5M623.9 26.5v2.5M626.4 26.5v2.5M628.9 24.8v5M631.3 26.5v2.5M633.8 26.5v2.5M636.3 26.5v2.5M638.8 26.5v2.5M641.2 26.5v3.2M643.7 26.5v2.5M646.1 26.5v2.5M648.6 26.5v2.5M651 26.5v2.5M653.4 24.8v5M365.4 241.3h5.2M656.4 241.3h-5.2M366.2 237.7h2.7M655.6 237.7h-2.7M366.2 234.2h2.7M655.6 234.2h-2.7M366.2 230.6h2.7M655.6 230.6h-2.7M366.2 227h2.7M655.6 227h-2.7M365.7 223.4h3.2M656.1 223.4h-3.2M366.2 219.9h2.7M655.6 219.9h-2.7M366.2 216.3h2.7M655.6 216.3h-2.7M366.2 212.7h2.7M655.6 212.7h-2.7M366.2 209.2h2.7M655.6 209.2h-2.7M365.4 205.6h5.2M656.4 205.6h-5.2M366.2 202h2.7M655.6 202h-2.7M366.2 198.4h2.7M655.6 198.4h-2.7M366.2 194.9h2.7M655.6 194.9h-2.7M366.2 191.3h2.7M655.6 191.3h-2.7M365.7 187.7h3.2M656.1 187.7h-3.2M366.2 184.2h2.7M655.6 184.2h-2.7M366.2 180.6h2.7M655.6 180.6h-2.7M366.2 177h2.7M655.6 177h-2.7M366.2 173.4h2.7M655.6 173.4h-2.7M365.4 169.9h5.2M656.4 169.9h-5.2M366.2 166.3h2.7M655.6 166.3h-2.7M366.2 162.7h2.7M655.6 162.7h-2.7M366.2 159.2h2.7M655.6 159.2h-2.7M366.2 155.6h2.7M655.6 155.6h-2.7M365.7 152h3.2M656.1 152h-3.2M366.2 148.4h2.7M655.6 148.4h-2.7M366.2 144.9h2.7M655.6 144.9h-2.7M366.2 141.3h2.7M655.6 141.3h-2.7M366.2 137.7h2.7M655.6 137.7h-2.7M365.4 134.2h5.2M656.4 134.2h-5.2M366.2 130.6h2.7M655.6 130.6h-2.7M366.2 127h2.7M655.6 127h-2.7M366.2 123.4h2.7M655.6 123.4h-2.7M366.2 119.9h2.7M655.6 119.9h-2.7M365.7 116.3h3.2M656.1 116.3h-3.2M366.2 112.7h2.7M655.6 112.7h-2.7M366.2 109.1h2.7M655.6 109.1h-2.7M366.2 105.6h2.7M655.6 105.6h-2.7M366.2 102h2.7M655.6 102h-2.7M365.4 98.4h5.2M656.4 98.4h-5.2M366.2 94.9h2.7M655.6 94.9h-2.7M366.2 91.3h2.7M655.6 91.3h-2.7M366.2 87.7h2.7M655.6 87.7h-2.7M366.2 84.1h2.7M655.6 84.1h-2.7M365.7 80.6h3.2M656.1 80.6h-3.2M366.2 77h2.7M655.6 77h-2.7M366.2 73.4h2.7M655.6 73.4h-2.7M366.2 69.9h2.7M655.6 69.9h-2.7M366.2 66.3h2.7M655.6 66.3h-2.7M365.4 62.7h5.2M656.4 62.7h-5.2M366.2 59.1h2.7M655.6 59.1h-2.7M366.2 55.6h2.7M655.6 55.6h-2.7M366.2 52h2.7M655.6 52h-2.7M366.2 48.4h2.7M655.6 48.4h-2.7M365.7 44.9h3.2M656.1 44.9h-3.2M366.2 41.3h2.7M655.6 41.3h-2.7M366.2 37.7h2.7M655.6 37.7h-2.7M366.2 34.1h2.7M655.6 34.1h-2.7M366.2 30.6h2.7M655.6 30.6h-2.7M365.4 27h5.2M656.4 27h-5.2" fill="none" stroke="#1a1a1a" stroke-width="0.8" />
<text class="m" x="510.5" y="16" font-size="8.2" font-weight="bold" text-anchor="middle" fill="#1a1a1a" textLength="101" lengthAdjust="spacingAndGlyphs" >Atomic Percent Arsenic</text>
<text class="m" x="368.4" y="23.6" font-size="5.7" font-weight="bold" text-anchor="middle" fill="#1a1a1a" textLength="3" lengthAdjust="spacingAndGlyphs" >0</text>
<text class="m" x="401.5" y="23.6" font-size="5.7" font-weight="bold" text-anchor="middle" fill="#1a1a1a" textLength="6.1" lengthAdjust="spacingAndGlyphs" >10</text>
<text class="m" x="433" y="23.6" font-size="5.7" font-weight="bold" text-anchor="middle" fill="#1a1a1a" textLength="6.1" lengthAdjust="spacingAndGlyphs" >20</text>
<text class="m" x="465" y="23.6" font-size="5.7" font-weight="bold" text-anchor="middle" fill="#1a1a1a" textLength="6.1" lengthAdjust="spacingAndGlyphs" >30</text>
<text class="m" x="493" y="23.6" font-size="5.7" font-weight="bold" text-anchor="middle" fill="#1a1a1a" textLength="6.1" lengthAdjust="spacingAndGlyphs" >40</text>
<text class="m" x="522" y="23.6" font-size="5.7" font-weight="bold" text-anchor="middle" fill="#1a1a1a" textLength="6.1" lengthAdjust="spacingAndGlyphs" >50</text>
<text class="m" x="549.5" y="23.6" font-size="5.7" font-weight="bold" text-anchor="middle" fill="#1a1a1a" textLength="6.1" lengthAdjust="spacingAndGlyphs" >60</text>
<text class="m" x="576.5" y="23.6" font-size="5.7" font-weight="bold" text-anchor="middle" fill="#1a1a1a" textLength="6.1" lengthAdjust="spacingAndGlyphs" >70</text>
<text class="m" x="603" y="23.6" font-size="5.7" font-weight="bold" text-anchor="middle" fill="#1a1a1a" textLength="6.1" lengthAdjust="spacingAndGlyphs" >80</text>
<text class="m" x="629" y="23.6" font-size="5.7" font-weight="bold" text-anchor="middle" fill="#1a1a1a" textLength="6.1" lengthAdjust="spacingAndGlyphs" >90</text>
<text class="m" x="653.4" y="23.6" font-size="5.7" font-weight="bold" text-anchor="middle" fill="#1a1a1a" textLength="9.1" lengthAdjust="spacingAndGlyphs" >100</text>
<text class="m" x="364.4" y="29.2" font-size="5.8" font-weight="bold" text-anchor="end" fill="#1a1a1a" textLength="13" lengthAdjust="spacingAndGlyphs" >1200</text>
<text class="m" x="364.4" y="64.9" font-size="5.8" font-weight="bold" text-anchor="end" fill="#1a1a1a" textLength="13" lengthAdjust="spacingAndGlyphs" >1000</text>
<text class="m" x="364.4" y="100.6" font-size="5.8" font-weight="bold" text-anchor="end" fill="#1a1a1a" textLength="9.8" lengthAdjust="spacingAndGlyphs" >800</text>
<text class="m" x="364.4" y="136.3" font-size="5.8" font-weight="bold" text-anchor="end" fill="#1a1a1a" textLength="9.8" lengthAdjust="spacingAndGlyphs" >600</text>
<text class="m" x="364.4" y="172.1" font-size="5.8" font-weight="bold" text-anchor="end" fill="#1a1a1a" textLength="9.8" lengthAdjust="spacingAndGlyphs" >400</text>
<text class="m" x="364.4" y="207.8" font-size="5.8" font-weight="bold" text-anchor="end" fill="#1a1a1a" textLength="9.8" lengthAdjust="spacingAndGlyphs" >200</text>
<text class="m" x="364.4" y="243.5" font-size="5.8" font-weight="bold" text-anchor="end" fill="#1a1a1a" textLength="3.2" lengthAdjust="spacingAndGlyphs" >0</text>
<text class="m" x="364.6" y="49.5" font-size="5.2" font-weight="bold" text-anchor="end" fill="#1a1a1a" textLength="28.6" lengthAdjust="spacingAndGlyphs" >1084.87°C</text>
<text class="m" x="368.4" y="249.2" font-size="5.7" font-weight="bold" text-anchor="middle" fill="#1a1a1a" textLength="3" lengthAdjust="spacingAndGlyphs" >0</text>
<text class="m" x="396.9" y="249.2" font-size="5.7" font-weight="bold" text-anchor="middle" fill="#1a1a1a" textLength="6.1" lengthAdjust="spacingAndGlyphs" >10</text>
<text class="m" x="425.4" y="249.2" font-size="5.7" font-weight="bold" text-anchor="middle" fill="#1a1a1a" textLength="6.1" lengthAdjust="spacingAndGlyphs" >20</text>
<text class="m" x="453.9" y="249.2" font-size="5.7" font-weight="bold" text-anchor="middle" fill="#1a1a1a" textLength="6.1" lengthAdjust="spacingAndGlyphs" >30</text>
<text class="m" x="482.4" y="249.2" font-size="5.7" font-weight="bold" text-anchor="middle" fill="#1a1a1a" textLength="6.1" lengthAdjust="spacingAndGlyphs" >40</text>
<text class="m" x="510.9" y="249.2" font-size="5.7" font-weight="bold" text-anchor="middle" fill="#1a1a1a" textLength="6.1" lengthAdjust="spacingAndGlyphs" >50</text>
<text class="m" x="539.4" y="249.2" font-size="5.7" font-weight="bold" text-anchor="middle" fill="#1a1a1a" textLength="6.1" lengthAdjust="spacingAndGlyphs" >60</text>
<text class="m" x="567.9" y="249.2" font-size="5.7" font-weight="bold" text-anchor="middle" fill="#1a1a1a" textLength="6.1" lengthAdjust="spacingAndGlyphs" >70</text>
<text class="m" x="596.4" y="249.2" font-size="5.7" font-weight="bold" text-anchor="middle" fill="#1a1a1a" textLength="6.1" lengthAdjust="spacingAndGlyphs" >80</text>
<text class="m" x="624.9" y="249.2" font-size="5.7" font-weight="bold" text-anchor="middle" fill="#1a1a1a" textLength="6.1" lengthAdjust="spacingAndGlyphs" >90</text>
<text class="m" x="653.4" y="249.2" font-size="5.7" font-weight="bold" text-anchor="middle" fill="#1a1a1a" textLength="9.1" lengthAdjust="spacingAndGlyphs" >100</text>
<text class="m" transform="translate(344.7,154.2) rotate(-90)" font-size="8.2" font-weight="bold" text-anchor="start" fill="#1a1a1a" textLength="68.4" lengthAdjust="spacingAndGlyphs">Temperature °C</text>
<text class="m" x="369.2" y="259.1" font-size="7.6" font-weight="bold" text-anchor="start" fill="#1a1a1a" textLength="9.5" lengthAdjust="spacingAndGlyphs" >Cu</text>
<text class="m" x="653" y="259.1" font-size="7.6" font-weight="bold" text-anchor="start" fill="#1a1a1a" textLength="9" lengthAdjust="spacingAndGlyphs" >As</text>
<text class="m" x="511" y="257.8" font-size="8.2" font-weight="bold" text-anchor="middle" fill="#1a1a1a" textLength="100" lengthAdjust="spacingAndGlyphs" >Weight Percent Arsenic</text>
<path d="M368.4 47.6C369.7 48.3 373.3 50.2 376 51.8C378.7 53.4 382 55.2 384.6 57C387.2 58.8 389.1 60.7 391.5 62.8C393.9 64.9 396.5 67.5 398.7 69.7C400.9 72 402.6 74 404.5 76.3C406.4 78.6 408.3 81.4 410 83.8C411.7 86.2 413.1 88.2 414.5 90.5C415.9 92.8 417.2 95.2 418.5 97.9C419.8 100.6 421 103 422.5 106.5C424 110 426.5 116.9 427.3 119" fill="none" stroke="#1a1a1a" stroke-width="0.95" />
<path d="M368.4 47.6C368.9 49.3 370.4 54.6 371.5 58C372.6 61.4 373.4 64.1 374.7 68.2C375.9 72.3 377.4 77 379 82.4C380.6 87.8 383.1 96.1 384.6 100.7C386.1 105.3 386.9 107 388 110C389.1 113 390.8 117.5 391.4 119" fill="none" stroke="#1a1a1a" stroke-width="0.95" />
<line x1="391.4" y1="119" x2="449.6" y2="119" stroke="#1a1a1a" stroke-width="0.95" />
<path d="M391.4 119C391.4 122.5 391.7 133.2 391.7 140C391.7 146.8 391.6 152.8 391.4 160C391.1 167.2 390.7 175.8 390.2 183.3C389.7 190.8 389.1 198 388.5 205C387.9 212 387.4 218.9 386.9 225C386.4 231.1 385.8 238.6 385.6 241.3" fill="none" stroke="#1a1a1a" stroke-width="0.95" />
<path d="M427.3 119C427.8 117.9 429 114.6 430 112.5C431 110.4 431.6 108.8 433.3 106.6C435 104.4 437.8 101 440 99.1C442.2 97.2 444.8 96.1 446.6 95.3C448.4 94.5 449.6 94.4 451 94.2C452.4 94 453.7 94 455 94.1C456.3 94.2 457.6 94.5 459 94.9C460.4 95.3 462 95.8 463.3 96.6C464.6 97.4 465.9 98.4 467 99.5C468.1 100.6 469.1 102 470 103.3C470.9 104.6 471.8 106 472.5 107.2C473.2 108.5 473.7 109.7 474.1 110.8C474.6 111.9 475 113.5 475.2 114.1" fill="none" stroke="#1a1a1a" stroke-width="0.95" />
<path d="M475.2 114.1C477.2 115.2 482.9 118.4 487 120.8C491.1 123.2 496 126.1 500 128.3C504 130.5 509 133.2 510.8 134.2" fill="none" stroke="#1a1a1a" stroke-width="0.95" />
<path d="M453.3 93.6C453 95.3 452.1 99.8 451.6 104C451.1 108.2 450.5 113.8 450.3 119C450.1 124.1 450.5 128.2 450.6 135C450.7 141.8 450.8 142.3 450.8 160C450.8 177.7 450.8 227.5 450.8 241" fill="none" stroke="#1a1a1a" stroke-width="0.95" />
<path d="M455.6 93.6C455.8 95.3 456.6 100.5 457 104C457.4 107.5 457.6 108.7 457.7 114.7C457.8 120.7 457.8 118.9 457.8 140C457.8 161.1 457.7 224.2 457.7 241" fill="none" stroke="#1a1a1a" stroke-width="0.95" />
<line x1="457.4" y1="114.1" x2="475.2" y2="114.1" stroke="#1a1a1a" stroke-width="0.95" />
<line x1="460" y1="116" x2="460" y2="187.7" stroke="#1a1a1a" stroke-width="0.85" stroke-dasharray="2.8 1.6"/>
<line x1="462.4" y1="116" x2="462.4" y2="184.7" stroke="#1a1a1a" stroke-width="0.85" stroke-dasharray="2.8 1.6" stroke-dashoffset="1.2"/>
<line x1="462.6" y1="134.2" x2="653" y2="134.2" stroke="#1a1a1a" stroke-width="0.95" />
<line x1="459.8" y1="187.7" x2="653" y2="187.7" stroke="#1a1a1a" stroke-width="0.95" />
<line x1="390" y1="183.3" x2="450.8" y2="183.3" stroke="#1a1a1a" stroke-width="0.95" />
<line x1="391.2" y1="159.2" x2="450.6" y2="159.2" stroke="#1a1a1a" stroke-width="0.95" stroke-dasharray="2.4 1.4"/>
<line x1="458" y1="159.2" x2="653" y2="159.2" stroke="#1a1a1a" stroke-width="0.95" stroke-dasharray="2.4 1.4"/>
<line x1="462.6" y1="173.1" x2="653" y2="173.1" stroke="#1a1a1a" stroke-width="0.95" stroke-dasharray="2.4 1.4"/>
<path d="M405.6 241.3L405.6 198.5L410.9 183.5L416.6 198.5L416.6 241.3" fill="none" stroke="#1a1a1a" stroke-width="0.95" stroke-dasharray="2.4 1.4"/>
<line x1="510.8" y1="134.2" x2="523" y2="125.8" stroke="#1a1a1a" stroke-width="0.7" stroke-dasharray="2.4 1.4"/>
<circle cx="524.3" cy="125" r="1" fill="none" stroke="#1a1a1a" stroke-width="0.5"/>
<line x1="475.5" y1="94.1" x2="460.6" y2="94.1" stroke="#1a1a1a" stroke-width="0.9" />
<path d="M460.6 94.1L464.3 92.5L464.3 95.7Z" fill="#1a1a1a"/>
<line x1="441.6" y1="125.8" x2="449.2" y2="120" stroke="#1a1a1a" stroke-width="0.8" />
<path d="M449.2 120L447.6 123L445.9 120.8Z" fill="#1a1a1a"/>
<line x1="445.5" y1="143.6" x2="450.4" y2="143.6" stroke="#1a1a1a" stroke-width="0.8" />
<path d="M450.4 143.6L447.3 145L447.3 142.2Z" fill="#1a1a1a"/>
<line x1="473.8" y1="148.6" x2="463" y2="148.6" stroke="#1a1a1a" stroke-width="0.8" />
<path d="M463 148.6L466.1 147.2L466.1 150Z" fill="#1a1a1a"/>
<line x1="473.8" y1="180.4" x2="463" y2="180.4" stroke="#1a1a1a" stroke-width="0.8" />
<path d="M463 180.4L466.1 179L466.1 181.8Z" fill="#1a1a1a"/>
<line x1="467" y1="192.7" x2="460" y2="185.8" stroke="#1a1a1a" stroke-width="0.8" />
<path d="M460 185.8L463.2 187L461.2 189Z" fill="#1a1a1a"/>
<line x1="423" y1="192.3" x2="413.2" y2="184.4" stroke="#1a1a1a" stroke-width="0.8" />
<path d="M413.2 184.4L416.5 185.3L414.7 187.4Z" fill="#1a1a1a"/>
<line x1="444.5" y1="218.4" x2="450.4" y2="218.4" stroke="#1a1a1a" stroke-width="0.8" />
<path d="M450.4 218.4L447.3 219.8L447.3 217Z" fill="#1a1a1a"/>
<line x1="634" y1="168.6" x2="652.4" y2="168.6" stroke="#1a1a1a" stroke-width="0.8" />
<path d="M652.4 168.6L649.3 170L649.3 167.2Z" fill="#1a1a1a"/>
<text class="m" x="478" y="95.7" font-size="5.0" font-weight="bold" text-anchor="start" fill="#1a1a1a" textLength="15" lengthAdjust="spacingAndGlyphs" >827°C</text>
<text class="m" x="445.5" y="92.2" font-size="4.8" font-weight="bold" text-anchor="start" fill="#1a1a1a" textLength="15" lengthAdjust="spacingAndGlyphs" >29.56</text>
<text class="m" x="399" y="117.5" font-size="5.0" font-weight="bold" text-anchor="start" fill="#1a1a1a" textLength="16.5" lengthAdjust="spacingAndGlyphs" >685°C</text>
<text class="m" x="392" y="124.5" font-size="4.6" font-weight="bold" text-anchor="start" fill="#1a1a1a" textLength="12" lengthAdjust="spacingAndGlyphs" >7.96</text>
<text class="m" x="423" y="124.5" font-size="4.6" font-weight="bold" text-anchor="start" fill="#1a1a1a" textLength="11.5" lengthAdjust="spacingAndGlyphs" >20.8</text>
<text class="m" x="429" y="132.5" font-size="4.6" font-weight="bold" text-anchor="start" fill="#1a1a1a" textLength="16.5" lengthAdjust="spacingAndGlyphs" >~28.3</text>
<text class="m" x="457.8" y="113.8" font-size="5.4" font-weight="bold" text-anchor="start" fill="#1a1a1a" textLength="17.2" lengthAdjust="spacingAndGlyphs" >709°C</text>
<text class="m" x="477.4" y="113.8" font-size="4.8" font-weight="bold" text-anchor="start" fill="#1a1a1a" textLength="15" lengthAdjust="spacingAndGlyphs" >~37.8</text>
<text class="r" x="440.5" y="145.2" font-size="6" font-weight="bold" text-anchor="start" fill="#1a1a1a" textLength="3.5" lengthAdjust="spacingAndGlyphs" >γ</text>
<text class="m" x="373.3" y="145.4" font-size="7.2" font-weight="bold" text-anchor="start" fill="#1a1a1a" textLength="13.9" lengthAdjust="spacingAndGlyphs" style="stroke-width:0.45px">(Cu)</text>
<text class="m" x="403.3" y="157.4" font-size="4.8" font-weight="bold" text-anchor="start" fill="#1a1a1a" textLength="35.9" lengthAdjust="spacingAndGlyphs" >450°C-475°C</text>
<text class="m" x="414.5" y="180.7" font-size="5.0" font-weight="bold" text-anchor="start" fill="#1a1a1a" textLength="16" lengthAdjust="spacingAndGlyphs" >325°C</text>
<text class="m" x="391.5" y="187.5" font-size="4.4" font-weight="bold" text-anchor="start" fill="#1a1a1a" textLength="7.5" lengthAdjust="spacingAndGlyphs" >7.6</text>
<text class="m" x="434.5" y="188" font-size="4.6" font-weight="bold" text-anchor="start" fill="#1a1a1a" textLength="15.5" lengthAdjust="spacingAndGlyphs" >~29.1</text>
<text class="m" x="423" y="196.7" font-size="4.6" font-weight="bold" text-anchor="start" fill="#1a1a1a" textLength="15" lengthAdjust="spacingAndGlyphs" >~14.5</text>
<text class="r" x="408.8" y="220.7" font-size="6.4" font-weight="bold" text-anchor="start" fill="#1a1a1a" textLength="3.5" lengthAdjust="spacingAndGlyphs" >β</text>
<text class="r" x="438.5" y="220.2" font-size="6" font-weight="bold" text-anchor="start" fill="#1a1a1a" textLength="3.5" lengthAdjust="spacingAndGlyphs" >γ</text>
<text class="m" x="467.5" y="197.2" font-size="4.6" font-weight="bold" text-anchor="start" fill="#1a1a1a" textLength="14.5" lengthAdjust="spacingAndGlyphs" >~32.5</text>
<text class="r" x="476.5" y="150.4" font-size="6" font-weight="bold" text-anchor="start" fill="#1a1a1a" textLength="3.5" lengthAdjust="spacingAndGlyphs" >δ</text>
<text class="r" x="476" y="182" font-size="6" font-weight="bold" text-anchor="start" fill="#1a1a1a" textLength="5.5" lengthAdjust="spacingAndGlyphs" >δ′</text>
<text class="m" x="504" y="139.7" font-size="4.6" font-weight="bold" text-anchor="start" fill="#1a1a1a" textLength="14" lengthAdjust="spacingAndGlyphs" >~50.1</text>
<text class="m" x="555.5" y="133.1" font-size="5.0" font-weight="bold" text-anchor="start" fill="#1a1a1a" textLength="16.5" lengthAdjust="spacingAndGlyphs" >600°C</text>
<text class="m" x="550.5" y="156.8" font-size="5.0" font-weight="bold" text-anchor="start" fill="#1a1a1a" textLength="20" lengthAdjust="spacingAndGlyphs" >~448°C</text>
<text class="m" x="553" y="171.8" font-size="5.0" font-weight="bold" text-anchor="start" fill="#1a1a1a" textLength="20" lengthAdjust="spacingAndGlyphs" >~380°C</text>
<text class="m" x="557" y="185.7" font-size="5.0" font-weight="bold" text-anchor="start" fill="#1a1a1a" textLength="15" lengthAdjust="spacingAndGlyphs" >300°C</text>
<text class="m" x="617" y="169.4" font-size="5.6" font-weight="bold" text-anchor="start" fill="#1a1a1a" textLength="16.5" lengthAdjust="spacingAndGlyphs" >(αAs)</text>
<text class="m" x="657" y="95.6" font-size="4.8" font-weight="bold" text-anchor="start" fill="#1a1a1a" textLength="29" lengthAdjust="spacingAndGlyphs" >817°C T.P.</text>
<text class="m" x="657" y="135.8" font-size="4.8" font-weight="bold" text-anchor="start" fill="#1a1a1a" textLength="29" lengthAdjust="spacingAndGlyphs" >614°C S.P.</text>
<text class="r" x="520.3" y="78.6" font-size="13.5" font-weight="normal" text-anchor="start" fill="#1a1a1a" >L</text>
<rect x="379.1" y="5" width="5.6" height="236" fill="#cc10a6" fill-opacity="0.62"/>
<rect x="453.2" y="24" width="2.3" height="235.2" fill="#c2149a"/>
<text class="s" x="432.4" y="276.7" font-size="14.1" font-weight="bold" fill="#c4189c" stroke="#c4189c" stroke-width="0.3">Cu<tspan font-size="9.6" dy="2.8">3</tspan><tspan dy="-2.8" font-size="1">&#8203;</tspan>As</text>
<text class="s" x="342.6" y="298.4" font-size="9.4" font-weight="bold" text-anchor="start" fill="#111" stroke="#111" stroke-width="0.55">b</text>
</g>
</svg></body></html>
